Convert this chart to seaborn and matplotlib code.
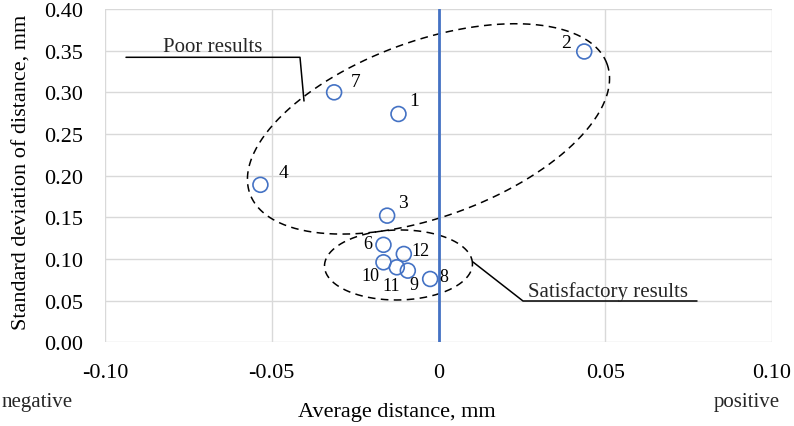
import numpy as np
import pandas as pd
import matplotlib
matplotlib.use("Agg")
import matplotlib.pyplot as plt
import seaborn as sns

# ---- data ----
sample_ids = ["1", "2", "3", "4", "6", "7", "8", "9", "10", "11", "12"]
avg_distance = [-0.0120, 0.0437, -0.0154, -0.0534, -0.0165, -0.0313, -0.0025, -0.0092, -0.0165, -0.0125, -0.0104]
std_distance = [0.274, 0.349, 0.152, 0.189, 0.117, 0.300, 0.076, 0.086, 0.096, 0.090, 0.106]

x_ticks = [-0.10, -0.05, 0.0, 0.05, 0.10]
x_tick_labels = ["-0.10", "-0.05", "0", "0.05", "0.10"]
y_ticks = [0.00, 0.05, 0.10, 0.15, 0.20, 0.25, 0.30, 0.35, 0.40]
y_tick_labels = ["0.00", "0.05", "0.10", "0.15", "0.20", "0.25", "0.30", "0.35", "0.40"]

group_names = ["Poor results", "Satisfactory results"]

df = pd.DataFrame({"id": sample_ids, "avg": avg_distance, "std": std_distance})

# ---- style ----
sns.set_theme(style="white")
plt.rcParams["font.family"] = ["Liberation Serif", "DejaVu Serif"]
BLUE = "#4472C4"
GRID = "#D9D9D9"

W, H = 794, 427
fig = plt.figure(figsize=(W / 100, H / 100), dpi=100)
ax = fig.add_axes([105 / W, 1 - 343.3 / H, 667 / W, 333.3 / H])

sns.scatterplot(data=df, x="avg", y="std", ax=ax, marker="o", s=115,
                facecolor="none", edgecolor=BLUE, linewidth=1.2, zorder=4)

ax.axvline(0, color=BLUE, lw=2.0, zorder=3)

ax.set_xlim(-0.10, 0.10)
ax.set_ylim(0.0, 0.40)
ax.set_xticks(x_ticks)
ax.set_xticklabels(x_tick_labels)
ax.set_yticks(y_ticks)
ax.set_yticklabels(y_tick_labels)
ax.tick_params(axis="x", length=0, pad=15, labelsize=16, colors="black")
ax.tick_params(axis="y", length=0, pad=16, labelsize=16, colors="black")
ax.grid(True, color=GRID, lw=1.0, zorder=0)
ax.set_axisbelow(True)
for sp in ax.spines.values():
    sp.set_visible(False)

ax.set_xlabel("Average distance, mm", fontsize=16, color="black")
ax.set_ylabel("Standard deviation of distance, mm", fontsize=16, color="black")
ax.xaxis.label.set_va("center")
ax.yaxis.label.set_va("center")
ax.xaxis.set_label_coords((397 - 105) / 667, (343.3 - 413) / 333.3)
ax.yaxis.set_label_coords((22 - 105) / 667, (343.3 - 172.5) / 333.3)

fig.text(37 / W, 1 - 403 / H, "negative", fontsize=15, ha="center", va="center")
fig.text(747 / W, 1 - 403 / H, "positive", fontsize=15, ha="center", va="center")

# point labels (offsets in pixels)
label_offsets = {"1": (16, 13), "2": (-18, 9), "3": (16, 13), "4": (23, 12),
                 "6": (-16, 1), "7": (22, 11), "8": (14, 2), "9": (6, -14),
                 "10": (-13, -13), "11": (-6, -18), "12": (17, 3)}
for sid, xv, yv in zip(sample_ids, avg_distance, std_distance):
    dx, dy = label_offsets[sid]
    fs = 14 if sid in ("1", "2", "3", "4", "7") else 13
    ax.annotate(sid, (xv, yv), xytext=(dx, dy), textcoords="offset pixels",
                ha="center", va="center", fontsize=fs, color="black", zorder=5)

# dashed ellipses (centre in data units, semi-axes in pixels)
def ellipse(cx, cy, a_px, b_px, ang_deg):
    c = ax.transData.transform((cx, cy))
    t = np.linspace(0, 2 * np.pi, 400)
    th = np.deg2rad(ang_deg)
    px = c[0] + a_px * np.cos(t) * np.cos(th) - b_px * np.sin(t) * np.sin(th)
    py = c[1] + a_px * np.cos(t) * np.sin(th) + b_px * np.sin(t) * np.cos(th)
    pts = ax.transData.inverted().transform(np.column_stack([px, py]))
    ax.plot(pts[:, 0], pts[:, 1], color="black", lw=1.1,
            linestyle=(0, (5, 3.5)), zorder=2, clip_on=False)

ellipse(-0.0030, 0.2561, 190, 88, 20)
ellipse(-0.0120, 0.0928, 74, 35, 1)

# leader lines and group captions (figure pixel positions)
def fpx(x, y):
    return x / W, 1 - y / H

l1 = np.array([fpx(126, 58.3), fpx(300, 58.3), fpx(304, 102)])
fig.add_artist(plt.Line2D(l1[:, 0], l1[:, 1], color="black", lw=1.1))
l2 = np.array([fpx(473, 263), fpx(523, 302), fpx(697, 302)])
fig.add_artist(plt.Line2D(l2[:, 0], l2[:, 1], color="black", lw=1.1))

fig.text(*fpx(213, 47), group_names[0], fontsize=15, ha="center", va="center")
fig.text(*fpx(608, 292), group_names[1], fontsize=15, ha="center", va="center")

fig.savefig("out.png", dpi=100)
